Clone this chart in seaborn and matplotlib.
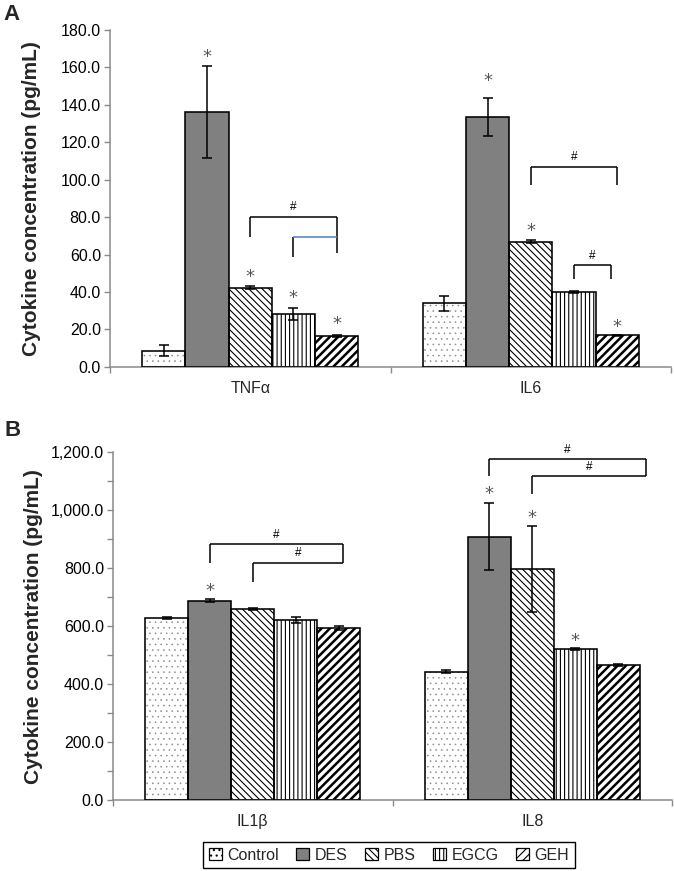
import matplotlib
matplotlib.use("Agg")
import numpy as np
import pandas as pd
import seaborn as sns
import matplotlib.pyplot as plt
from matplotlib.patches import Rectangle, Patch
from matplotlib.ticker import MultipleLocator, FuncFormatter, FixedLocator

# ---------------- data ----------------
groups = ["Control", "DES", "PBS", "EGCG", "GEH"]

cats_a = ["TNFα", "IL6"]
tnfa = [8.7, 136.2, 42.4, 28.4, 16.7]
tnfa_err = [3.0, 24.5, 0.8, 3.2, 0.5]
il6 = [34.0, 133.6, 66.8, 40.0, 16.8]
il6_err = [4.0, 10.0, 0.8, 0.3, 0.3]

cats_b = ["IL1β", "IL8"]
il1b = [627.6, 688.0, 659.6, 622.8, 594.0]
il1b_err = [3.0, 5.0, 2.0, 10.0, 7.0]
il8 = [443.5, 909.0, 797.6, 520.7, 465.5]
il8_err = [5.0, 116.0, 149.0, 3.0, 3.0]

# asterisks: (category index, group index, y)
stars_a = [(0, 1, 165.5), (0, 2, 47.9), (0, 3, 36.7), (0, 4, 22.8),
           (1, 1, 153.0), (1, 2, 72.8), (1, 4, 21.5)]
stars_b = [(0, 1, 723.0), (1, 1, 1055.0), (1, 2, 974.0), (1, 3, 550.0)]

# brackets: (cat, group_left, group_right, y_top, y_left_end, y_right_end,
#            right offset in bar widths, top colour, hash label y or None)
brackets_a = [(0, 2, 4, 80.1, 69.4, 60.9, 0.0, "black", 85.5),
              (0, 3, 4, 69.5, 58.7, 69.5, 0.0, "#4f7fbf", None),
              (1, 2, 4, 106.8, 97.2, 97.2, 0.0, "black", 112.0),
              (1, 3, 4, 54.5, 47.0, 47.0, -0.14, "black", 59.3)]
brackets_b = [(0, 1, 4, 884.0, 819.0, 818.0, 0.1, "black", 915.0),
              (0, 2, 4, 818.0, 753.0, 818.0, 0.1, "black", 853.0),
              (1, 1, 4, 1176.0, 1118.0, 1118.0, 0.64, "black", 1208.0),
              (1, 2, 4, 1118.0, 1055.0, 1118.0, 0.64, "black", 1148.0)]

# ---------------- style ----------------
face_colors = ["white", "#808080", "white", "white", "white"]
hatches = ["...", None, "\\\\\\\\\\", "||||", "////"]
hatch_colors = ["#8c8c8c", "black", "black", "black", "black"]
hatch_lw = [0.4, 1.0, 0.8, 0.8, 1.8]

sns.set_style("ticks")
plt.rcParams["font.family"] = ["Liberation Sans", "DejaVu Sans"]
plt.rcParams["hatch.linewidth"] = 0.8

fig = plt.figure(figsize=(6.74, 8.71), dpi=100)
axA = fig.add_axes([110 / 674, 1 - 366.9 / 871, 561 / 674, 336.9 / 871])
axB = fig.add_axes([113 / 674, 1 - 800.3 / 871, 559 / 674, 348.0 / 871])

AXIS_GRAY = "#8a8a8a"


def centers(ax):
    out = []
    for cont in ax.containers:
        out.append([p.get_x() + p.get_width() / 2 for p in cont.patches])
    return out  # [group][cat]


def draw_panel(ax, cats, v0, e0, v1, e1, ymax, major, minor, fmt, stars, brackets):
    df = pd.DataFrame({
        "cytokine": np.repeat(cats, len(groups)),
        "group": groups * 2,
        "value": list(v0) + list(v1),
    })
    sns.barplot(data=df, x="cytokine", y="value", hue="group", order=cats,
                hue_order=groups, palette=dict(zip(groups, face_colors)),
                width=0.77, errorbar=None, legend=False, saturation=1, ax=ax)
    bw = None
    for i, cont in enumerate(ax.containers):
        for p in cont.patches:
            bw = p.get_width()
            if hatches[i]:
                p.set_hatch(hatches[i])
            p.set_edgecolor(hatch_colors[i])
            p.set_linewidth(0)
            if hasattr(p, "set_hatch_linewidth"):
                p.set_hatch_linewidth(hatch_lw[i])
            ax.add_patch(Rectangle((p.get_x(), p.get_y()), p.get_width(), p.get_height(),
                                   fill=False, ec="black", lw=1.15, zorder=3))
    c = centers(ax)
    vals = [v0, v1]
    errs = [e0, e1]
    for g in range(len(groups)):
        xs = [c[g][k] for k in range(2)]
        ys = [vals[k][g] for k in range(2)]
        es = [errs[k][g] for k in range(2)]
        ax.errorbar(xs, ys, yerr=es, fmt="none", ecolor="black", elinewidth=1.1,
                    capsize=3.4, capthick=1.1, zorder=5)
    for (k, g, y) in stars:
        ax.text(c[g][k], y, "*", ha="center", va="center", fontsize=13,
                color="#555555", family="DejaVu Sans", zorder=6)
    for (k, gl, gr, yt, yl, yr, off, col, hy) in brackets:
        xl = c[gl][k]
        xr = c[gr][k] + off * bw
        ax.plot([xl, xl], [yl, yt], color="black", lw=1.1, solid_capstyle="butt", zorder=6)
        ax.plot([xr, xr], [yr, yt], color="black", lw=1.1, solid_capstyle="butt", zorder=6)
        ax.plot([xl, xr], [yt, yt], color=col, lw=1.1, solid_capstyle="butt", zorder=6)
        if hy is not None:
            ax.text((xl + xr) / 2, hy, "#", ha="center", va="center", fontsize=8.5,
                    color="black", zorder=6)

    ax.set_xlim(-0.5, 1.5)
    ax.set_ylim(0, ymax)
    ax.yaxis.set_major_locator(MultipleLocator(major))
    ax.yaxis.set_minor_locator(MultipleLocator(minor))
    ax.yaxis.set_major_formatter(FuncFormatter(fmt))
    ax.tick_params(axis="y", which="both", direction="out", length=4, width=1,
                   color=AXIS_GRAY, labelsize=11.5, pad=2.5, labelcolor="black")
    ax.xaxis.set_minor_locator(FixedLocator([-0.5, 0.5, 1.5]))
    ax.tick_params(axis="x", which="major", length=0, pad=10, labelsize=11.5)
    ax.tick_params(axis="x", which="minor", direction="out", length=4, width=1,
                   color=AXIS_GRAY)
    ax.set_xlabel("")
    ax.set_ylabel("Cytokine concentration (pg/mL)", fontsize=15, fontweight="bold")
    for s in ["top", "right"]:
        ax.spines[s].set_visible(False)
    for s in ["left", "bottom"]:
        ax.spines[s].set_color(AXIS_GRAY)
        ax.spines[s].set_linewidth(1.1)


draw_panel(axA, cats_a, tnfa, tnfa_err, il6, il6_err, 180, 20, 20,
           lambda v, p: f"{v:.1f}", stars_a, brackets_a)
draw_panel(axB, cats_b, il1b, il1b_err, il8, il8_err, 1200, 200, 100,
           lambda v, p: f"{v:,.1f}", stars_b, brackets_b)

axA.yaxis.set_label_coords((41 - 110) / 561, 0.5)
axB.yaxis.set_label_coords((43 - 113) / 559, 0.5)

fig.text(3 / 674, 1 - 20 / 871, "A", fontsize=16, fontweight="bold", ha="left", va="baseline")
fig.text(4 / 674, 1 - 436 / 871, "B", fontsize=16, fontweight="bold", ha="left", va="baseline")

handles = [Patch(facecolor=face_colors[i], edgecolor="black", hatch=hatches[i], lw=0.9)
           for i in range(len(groups))]
leg = fig.legend(handles, groups, loc="center", bbox_to_anchor=(389 / 674, 1 - 855 / 871),
                 ncol=5, frameon=True, fancybox=False, edgecolor="black", framealpha=1,
                 fontsize=11.5, handlelength=0.8, handleheight=0.8, handletextpad=0.35,
                 columnspacing=1.1, borderpad=0.35)
leg.get_frame().set_linewidth(1.0)

fig.savefig("out.png", dpi=100)
